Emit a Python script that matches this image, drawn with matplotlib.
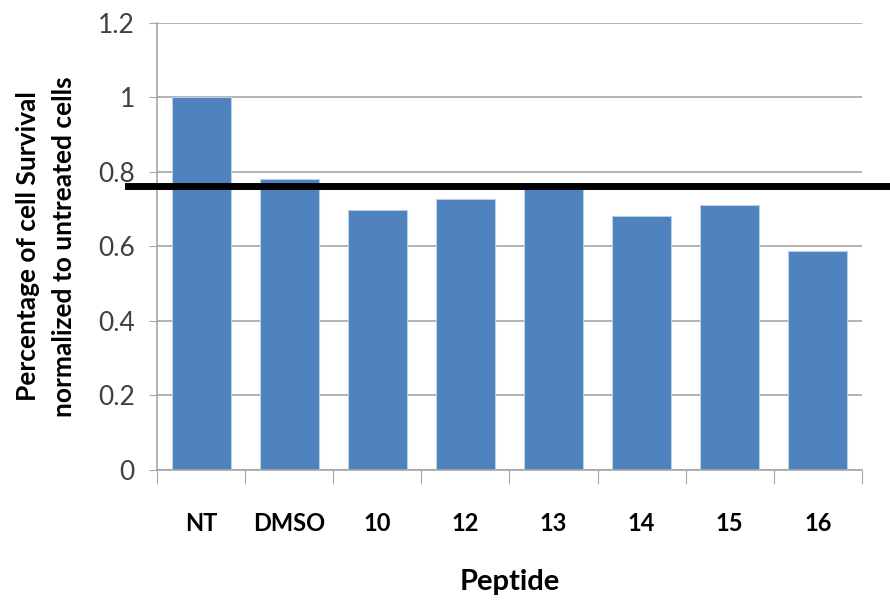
import matplotlib

matplotlib.use("Agg")
import matplotlib.pyplot as plt

peptides = ["NT", "DMSO", "10", "12", "13", "14", "15", "16"]
survival = [1.0, 0.78, 0.698, 0.727, 0.765, 0.683, 0.711, 0.588]
threshold = 0.762
y_ticks = [0, 0.2, 0.4, 0.6, 0.8, 1.0, 1.2]
y_tick_labels = ["0", "0.2", "0.4", "0.6", "0.8", "1", "1.2"]

plt.rcParams["font.family"] = ["Lato", "DejaVu Sans"]

fig = plt.figure(figsize=(8.9, 6.02), dpi=100)
ax = fig.add_axes([0.1764, 0.2193, 0.7921, 0.7425])

x = list(range(len(peptides)))
ax.bar(x, survival, width=0.67, color="#4f81bd", edgecolor="#b9cde5",
       linewidth=0.8, zorder=2)

# black threshold line running past both axis ends
ax.axhline(threshold, xmin=-0.041, xmax=1.05, color="black", linewidth=5,
           clip_on=False, zorder=4)

ax.set_xlim(-0.5, len(peptides) - 0.5)
ax.set_ylim(0, 1.2)
ax.set_yticks(y_ticks)
ax.set_yticklabels(y_tick_labels, fontsize=19, color="#404040")
ax.yaxis.grid(True, color="#a6a6a6", linewidth=1.2, zorder=0)
ax.set_axisbelow(True)

# category labels between boundary ticks, Excel style
ax.set_xticks([i + 0.5 for i in x[:-1]] + [-0.5, len(peptides) - 0.5])
ax.set_xticklabels([])
ax.tick_params(axis="x", length=10, color="#a6a6a6", direction="out")
ax.tick_params(axis="y", length=6, color="#a6a6a6", direction="out", pad=10)
for i, name in zip(x, peptides):
    ax.text(i, -0.143, name, ha="center", va="center", fontsize=17,
            fontweight="bold", transform=ax.transData)

for side in ["top", "right"]:
    ax.spines[side].set_visible(False)
for side in ["left", "bottom"]:
    ax.spines[side].set_color("#a6a6a6")
    ax.spines[side].set_linewidth(1.2)

ax.set_xlabel("Peptide", fontsize=21, fontweight="bold", labelpad=58)
ax.set_ylabel("Percentage of cell Survival\nnormalized to untreated cells",
              fontsize=19, fontweight="bold", labelpad=16, linespacing=1.6)

fig.savefig("out.png", dpi=100)
